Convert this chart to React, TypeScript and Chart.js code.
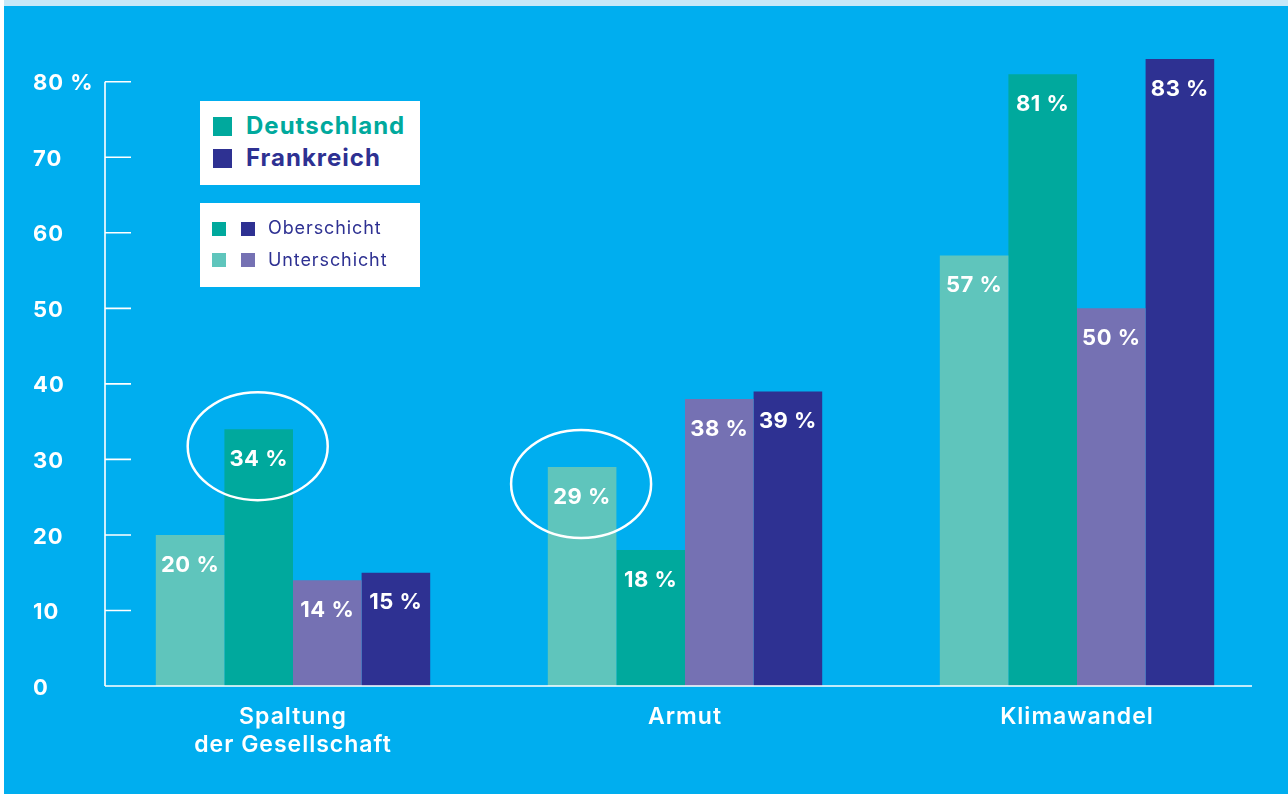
import React, { useEffect, useRef } from 'react';
import { Chart, registerables } from 'chart.js';

Chart.register(...registerables);

// ---- data ----
const categories: string[][] = [['Spaltung', 'der Gesellschaft'], ['Armut'], ['Klimawandel']];
const seriesNames = ['Deutschland – Unterschicht', 'Deutschland – Oberschicht', 'Frankreich – Unterschicht', 'Frankreich – Oberschicht'];
const deUnterschicht = [20, 29, 57];
const deOberschicht = [34, 18, 81];
const frUnterschicht = [14, 38, 50];
const frOberschicht = [15, 39, 83];
const yTickValues = [0, 10, 20, 30, 40, 50, 60, 70, 80];
const highlights = [
  { dataset: 1, index: 0 },
  { dataset: 0, index: 1 },
];

// ---- style ----
const FONT = 'Inter, "Open Sans", "Noto Sans", sans-serif';
const BG = '#00aeef';
const TOP_STRIP = '#c6e8f8';
const C_LIGHT_TEAL = '#5fc5bc';
const C_TEAL = '#00a99d';
const C_PURPLE = '#7571b3';
const C_NAVY = '#2e3192';

const spacingPlugin = {
  id: 'letterSpacing',
  beforeUpdate(chart: any) {
    chart.ctx.letterSpacing = '1px';
  },
  beforeDraw(chart: any) {
    chart.ctx.letterSpacing = '1px';
  },
};

const axisPlugin = {
  id: 'customAxis',
  afterDatasetsDraw(chart: any) {
    const { ctx, chartArea, scales } = chart;
    const y = scales.y;
    const x0 = chartArea.left + 8;
    const yTop = y.getPixelForValue(yTickValues[yTickValues.length - 1]);
    const yBottom = y.getPixelForValue(0);
    ctx.save();
    ctx.strokeStyle = '#ffffff';
    ctx.lineWidth = 1.6;
    ctx.beginPath();
    ctx.moveTo(x0, yTop);
    ctx.lineTo(x0, yBottom);
    ctx.moveTo(x0, yBottom);
    ctx.lineTo(chartArea.right - 21, yBottom);
    yTickValues.forEach((v) => {
      if (v === 0) return;
      const py = y.getPixelForValue(v);
      ctx.moveTo(x0, py);
      ctx.lineTo(x0 + 26, py);
    });
    ctx.stroke();
    ctx.restore();
  },
};

const labelPlugin = {
  id: 'barLabels',
  afterDatasetsDraw(chart: any) {
    const { ctx } = chart;
    ctx.save();
    ctx.letterSpacing = '0.5px';
    ctx.font = `700 22px ${FONT}`;
    ctx.fillStyle = '#ffffff';
    ctx.textAlign = 'center';
    ctx.textBaseline = 'middle';
    chart.data.datasets.forEach((ds: any, di: number) => {
      chart.getDatasetMeta(di).data.forEach((bar: any, i: number) => {
        ctx.fillText(`${ds.data[i]} %`, bar.x, bar.y + 30);
      });
    });
    // highlight ellipses
    ctx.strokeStyle = '#ffffff';
    ctx.lineWidth = 2.5;
    highlights.forEach((h) => {
      const bar = chart.getDatasetMeta(h.dataset).data[h.index];
      ctx.beginPath();
      ctx.ellipse(bar.x - 1, bar.y + 17, 70, 54, 0, 0, Math.PI * 2);
      ctx.stroke();
    });
    ctx.restore();
  },
};

const legendBox: React.CSSProperties = {
  position: 'absolute',
  left: 200,
  width: 220,
  height: 84,
  background: '#ffffff',
  boxSizing: 'border-box',
  fontFamily: FONT,
};

function Sq({ color, size, left, top }: { color: string; size: number; left: number; top: number }) {
  return <div style={{ position: 'absolute', left, top, width: size, height: size, background: color }} />;
}

function Txt({ text, left, cy, size, weight, color, spacing }: { text: string; left: number; cy: number; size: number; weight: number; color: string; spacing: number }) {
  return (
    <div
      style={{
        position: 'absolute',
        left,
        top: cy - size * 0.6,
        height: size * 1.2,
        lineHeight: `${size * 1.2}px`,
        fontSize: size,
        fontWeight: weight,
        letterSpacing: spacing,
        color,
        whiteSpace: 'nowrap',
      }}
    >
      {text}
    </div>
  );
}

export default function App() {
  const canvasRef = useRef<HTMLCanvasElement | null>(null);

  useEffect(() => {
    document.body.style.margin = '0';
    const canvas = canvasRef.current;
    if (!canvas) return;
    const chart = new Chart(canvas, {
      type: 'bar',
      data: {
        labels: categories as any,
        datasets: [
          { label: seriesNames[0], data: deUnterschicht, backgroundColor: C_LIGHT_TEAL },
          { label: seriesNames[1], data: deOberschicht, backgroundColor: C_TEAL },
          { label: seriesNames[2], data: frUnterschicht, backgroundColor: C_PURPLE },
          { label: seriesNames[3], data: frOberschicht, backgroundColor: C_NAVY },
        ],
      },
      options: {
        animation: false,
        responsive: false,
        maintainAspectRatio: false,
        layout: { padding: { left: 29, top: 38, right: 15, bottom: 0 } },
        datasets: {
          bar: { categoryPercentage: 0.7, barPercentage: 1.0, borderWidth: 0 },
        },
        plugins: {
          legend: { display: false },
          tooltip: { enabled: false },
        },
        scales: {
          x: {
            grid: { display: false, drawTicks: false },
            border: { display: false },
            ticks: {
              color: '#ffffff',
              font: { family: FONT, size: 23, weight: 600 as any, lineHeight: 1.22 },
              padding: 17,
              maxRotation: 0,
              autoSkip: false,
            },
            afterFit(scale: any) {
              scale.height = 108;
            },
          },
          y: {
            min: 0,
            max: 85,
            grid: { display: false, drawTicks: false },
            border: { display: false },
            afterBuildTicks(scale: any) {
              scale.ticks = yTickValues.map((v) => ({ value: v }));
            },
            ticks: {
              color: '#ffffff',
              crossAlign: 'far',
              labelOffset: 2,
              font: { family: FONT, size: 22, weight: 700 as any },
              callback: (v: any) => (v === 80 ? '80 %' : String(v)),
            },
            afterFit(scale: any) {
              scale.width = 64;
            },
          },
        },
      },
      plugins: [spacingPlugin, axisPlugin, labelPlugin],
    });
    return () => chart.destroy();
  }, []);

  return (
    <div style={{ position: 'relative', width: 1288, height: 794, background: '#ffffff', overflow: 'hidden' }}>
      <div
        style={{
          position: 'absolute',
          left: 4,
          top: 0,
          width: 1284,
          height: 794,
          background: BG,
          borderTop: `6px solid ${TOP_STRIP}`,
          boxSizing: 'border-box',
        }}
      />
      <canvas ref={canvasRef} width={1284} height={788} style={{ position: 'absolute', left: 4, top: 6, width: 1284, height: 788 }} />
      <div style={{ ...legendBox, top: 101 }}>
        <Sq color={C_TEAL} size={19} left={13} top={16} />
        <Txt text="Deutschland" left={46} cy={25} size={24} weight={700} color={C_TEAL} spacing={1} />
        <Sq color={C_NAVY} size={19} left={13} top={48} />
        <Txt text="Frankreich" left={46} cy={57} size={24} weight={700} color={C_NAVY} spacing={1} />
      </div>
      <div style={{ ...legendBox, top: 203 }}>
        <Sq color={C_TEAL} size={14} left={12} top={19} />
        <Sq color={C_NAVY} size={14} left={41} top={19} />
        <Txt text="Oberschicht" left={68} cy={25} size={18} weight={400} color={C_NAVY} spacing={0.9} />
        <Sq color={C_LIGHT_TEAL} size={14} left={12} top={50} />
        <Sq color={C_PURPLE} size={14} left={41} top={50} />
        <Txt text="Unterschicht" left={68} cy={57} size={18} weight={400} color={C_NAVY} spacing={0.9} />
      </div>
    </div>
  );
}
